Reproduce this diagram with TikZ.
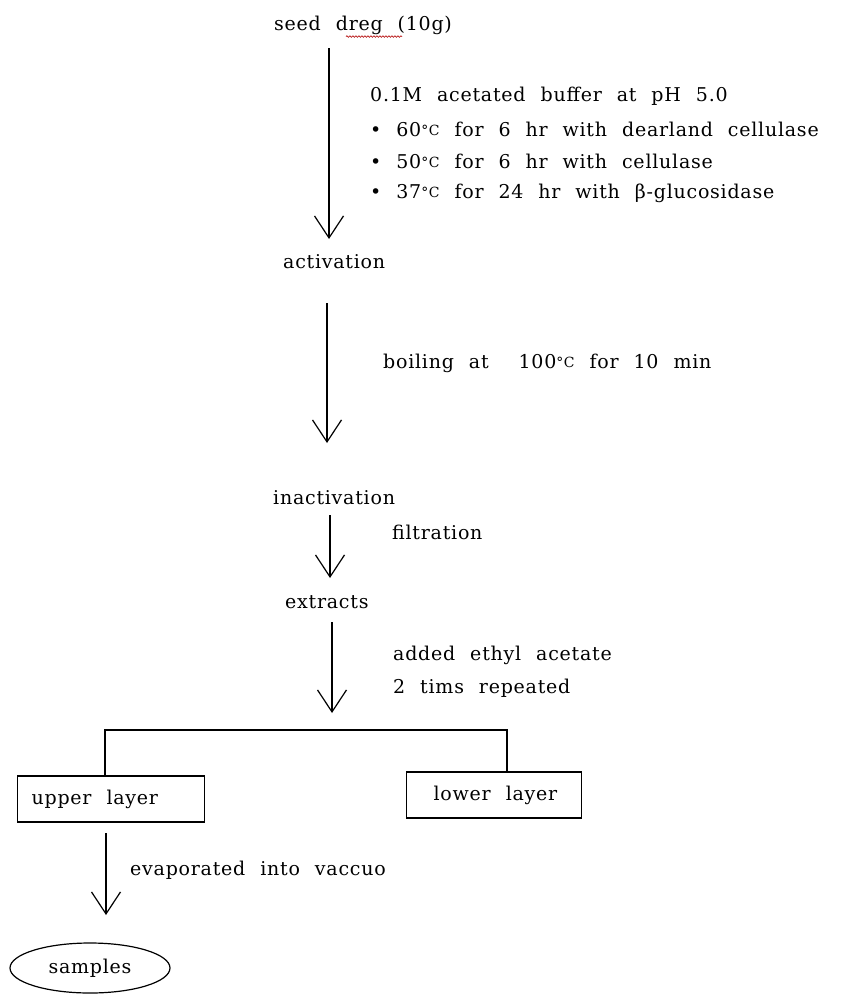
\documentclass[tikz,border=0pt]{standalone}
\usepackage{fontspec}
\setmainfont{DejaVu Serif}[WordSpace=2.2,LetterSpace=4]
\usetikzlibrary{arrows.meta,decorations.pathmorphing,shapes.geometric}
\newcommand{\dgC}{{\fontsize{14}{14}\selectfont\raisebox{0.5pt}{°C}}}
\begin{document}
\begin{tikzpicture}[x=1pt,y=-1pt,
  lbl/.style={anchor=west,inner sep=0pt,font=\fontsize{19}{21}\selectfont},
  arr/.style={line width=1.3pt,-{Straight Barb[length=22pt,width=29pt,line width=1.2pt]}},
  ln/.style={line width=1.3pt},
  boxnode/.style={draw,line width=1.3pt,minimum height=46pt,inner ysep=0pt,inner xsep=0pt,font=\fontsize{19}{21}\selectfont}]
\useasboundingbox[fill=white] (0,0) rectangle (841,996);
% text nodes
\node[lbl] (seed) at (274,25) {seed dreg (10g)};
\node[lbl] (t1) at (370,96) {0.1M acetated buffer at pH 5.0};
\node[lbl] (t2) at (370,129) {• 60\dgC\ for 6 hr with dearland cellulase};
\node[lbl] (t3) at (370,161) {• 50\dgC\ for 6 hr with cellulase};
\node[lbl] (t4) at (370,193) {• 37\dgC\ for 24 hr with β-glucosidase};
\node[lbl] (act) at (283,262) {activation};
\node[lbl] (boil) at (383,363) {boiling at \ 100\dgC\ for 10 min};
\node[lbl] (inact) at (273,498) {inactivation};
\node[lbl] (filt) at (392,532) {filtration};
\node[lbl] (ext) at (285,602) {extracts};
\node[lbl] (eth1) at (393,655) {added ethyl acetate};
\node[lbl] (eth2) at (393,688) {2 tims repeated};
\node[boxnode] (up) at (111,799) {\makebox[186.7pt][l]{\hspace*{14pt}upper layer}};
\node[boxnode] (low) at (494,795) {\makebox[174.7pt][l]{\hspace*{27pt}lower layer}};
\node[lbl] (evap) at (130,870) {evaporated into vaccuo};
\node[draw,ellipse,line width=1.2pt,minimum width=160pt,minimum height=50pt,inner sep=0pt,font=\fontsize{19}{21}\selectfont] (samp) at (90,968) {samples};
% spell-check marks
\draw[red!70!black,line width=0.6pt,decoration={snake,amplitude=0.8pt,segment length=3pt},decorate] ([xshift=72pt,yshift=-2pt]seed.south west) -- ([xshift=128pt,yshift=-2pt]seed.south west);
% arrow coordinates
\coordinate (a1s) at (329,48);  \coordinate (a1e) at (329,239);
\coordinate (a2s) at (327,303); \coordinate (a2e) at (327,443);
\coordinate (a3s) at (330,515); \coordinate (a3e) at (330,578);
\coordinate (a4s) at (332,622); \coordinate (a4e) at (332,713);
\coordinate (a5s) at (106,833); \coordinate (a5e) at (106,915);
\coordinate (bl) at (105,730); \coordinate (br) at (507,730);
\draw[arr] (a1s) -- (a1e);
\draw[arr] (a2s) -- (a2e);
\draw[arr] (a3s) -- (a3e);
\draw[arr] (a4s) -- (a4e);
\draw[arr] (a5s) -- (a5e);
\draw[ln] (bl |- up.north) -- (bl) -- (br) -- (br |- low.north);
\end{tikzpicture}
\end{document}
